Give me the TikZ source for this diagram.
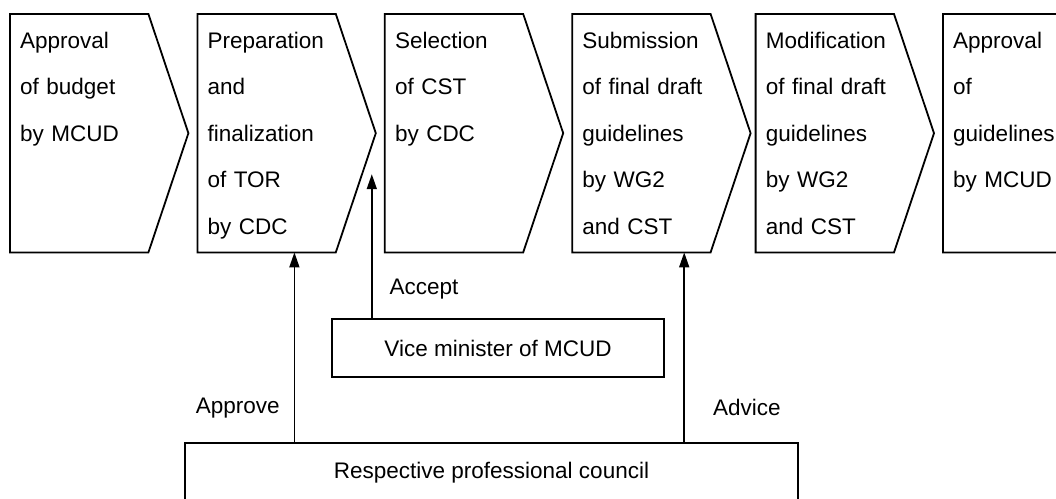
\documentclass[tikz,border=0pt]{standalone}
\usepackage{fontspec}
\setmainfont{Liberation Sans}
\usetikzlibrary{arrows.meta, positioning, calc}
\tikzstyle{stage} = [anchor=north west, inner xsep=10pt, inner ysep=0pt, text width=158pt, align=left, text height=34pt, text depth=204pt, font=\fontsize{22.5}{46.5}\selectfont]
\tikzstyle{chevron} = [line width=1.8pt, line join=miter]
\tikzstyle{panel} = [draw, line width=1.8pt, font=\fontsize{22.5}{26}\selectfont]
\tikzstyle{flow} = [line width=1.6pt, -{Triangle[length=15pt, width=10pt]}]
\tikzstyle{tag} = [inner sep=0pt, font=\fontsize{22.5}{26}\selectfont]

\begin{document}
\begin{tikzpicture}[x=1pt, y=-1pt]
    \useasboundingbox (0,0) rectangle (1056,498);
    % process steps
    \node[stage] (s1) at (10,14) {Approval\\of budget\\by MCUD};
    \node[stage, right=9pt of s1] (s2) {Preparation\\and\\finalization\\of TOR\\by CDC};
    \node[stage, right=9pt of s2] (s3) {Selection\\of CST\\by CDC};
    \node[stage, right=9pt of s3] (s4) {Submission\\of final draft\\guidelines\\by WG2\\and CST};
    \node[stage, right=5pt of s4] (s5) {Modification\\of final draft\\guidelines\\by WG2\\and CST};
    \node[stage, right=9pt of s5] (s6) {Approval\\of\\guidelines\\by MCUD};
    \foreach \s in {s1,s2,s3,s4,s5,s6}
        \draw[chevron] (\s.north west) -- ([xshift=-40pt]\s.north east) -- (\s.east) -- ([xshift=-40pt]\s.south east) -- (\s.south west) -- cycle;

    % bodies below
    \node[panel, minimum width=332pt, minimum height=58pt] (vice) at (498,348) {Vice minister of MCUD};
    \node[panel, minimum width=613pt, minimum height=60pt, anchor=north] (council) at (491.5,442) {Respective professional council};

    \coordinate (approve) at ([xshift=97pt]s2.south west);
    \coordinate (accept) at ([shift={(-4,41)}]s2.east);
    \coordinate (advice) at ([xshift=112pt]s4.south west);
    \draw[flow] (council.north -| approve) -- node[tag, pos=0.18, left=14pt] {Approve} (approve);
    \draw[flow] (vice.north -| accept) -- node[tag, pos=0.2, right=17pt] {Accept} (accept);
    \draw[flow] (council.north -| advice) -- node[tag, pos=0.18, right=28pt] {Advice} (advice);
\end{tikzpicture}
\end{document}
